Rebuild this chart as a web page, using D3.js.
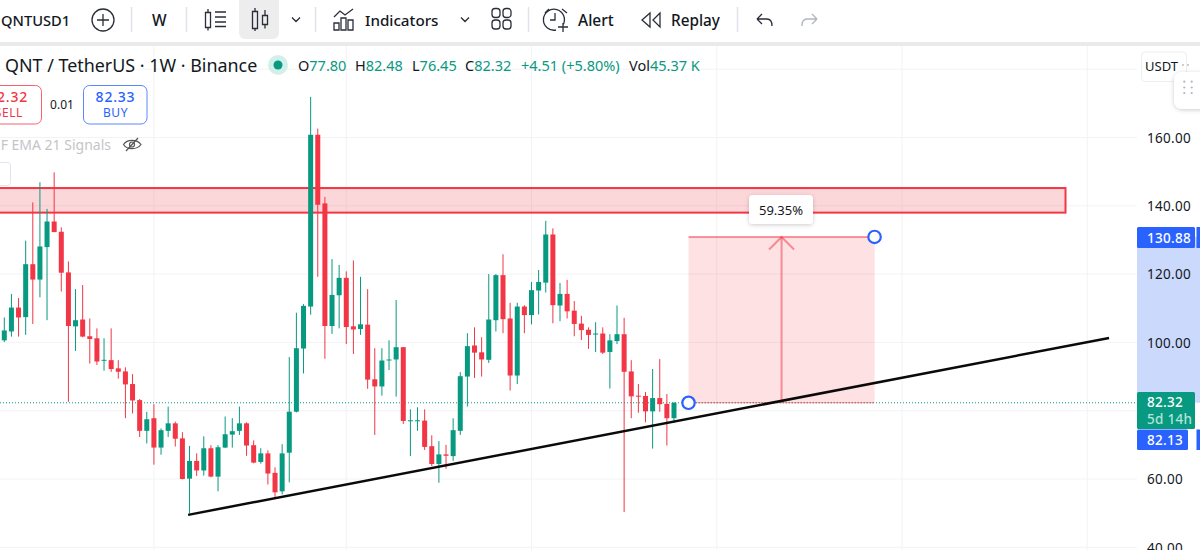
<!DOCTYPE html>
<html><head><meta charset="utf-8">
<script src="https://cdn.jsdelivr.net/npm/d3@7/dist/d3.min.js"></script>
<style>
html,body{margin:0;padding:0;background:#fff;overflow:hidden}
text{font-family:"Noto Sans","Open Sans",sans-serif}
</style></head><body><svg id="c" width="1200" height="550"></svg>
<script>
const opens=[100.6,103.2,110.2,107.4,122.9,118.4,127.9,135.4,132.4,120.5,104.7,106.7,101.8,101.2,94.7,94.8,92.4,91.5,87.8,83.1,74.1,77.8,69.2,74.1,76.3,71.9,60.1,65.3,62.5,69.0,60.7,69.2,73.0,74.1,76.3,69.9,65.0,67.5,61.8,56.4,67.7,79.7,98.2,110.5,160.8,140.7,104.8,113.8,118.9,104.7,103.9,105.2,89.2,87.1,94.7,95.0,98.6,76.9,76.9,77.1,69.6,64.4,67.2,66.7,74.1,90.0,99.1,97.1,94.9,106.5,119.7,107.0,90.3,110.5,108.0,115.2,117.5,131.6,110.8,114.2,109.3,105.5,103.7,102.3,102.6,97.2,100.4,102.4,91.5,84.4,84.3,79.8,83.7,82.0,77.80];
const highs=[107.3,114.2,113.0,129.8,141.0,146.9,139.1,149.8,133.7,123.7,115.6,116.8,107.0,104.1,101.2,104.1,94.8,92.7,90.7,83.4,79.7,81.9,74.8,81.2,76.8,73.7,69.7,67.5,72.5,69.9,69.9,78.3,77.8,81.2,76.6,71.3,69.0,68.4,63.4,70.2,95.7,108.7,111.2,171.9,162.6,142.6,124.4,122.7,120.8,124.0,119.2,115.6,98.3,98.3,100.6,112.4,98.6,80.4,81.0,80.4,72.8,71.1,70.0,77.8,91.3,102.7,104.4,101.5,120.0,120.0,125.8,111.6,111.6,110.9,117.7,121.2,135.6,133.4,117.4,118.3,112.1,107.8,104.4,105.9,104.4,102.4,110.8,107.2,94.8,87.8,85.5,92.2,95.1,84.9,82.48];
const lows=[100.1,101.7,101.7,102.2,105.4,113.2,106.5,132.3,114.9,82.6,97.5,101.5,93.8,93.4,91.7,91.4,89.4,77.8,79.2,72.3,70.4,64.2,67.1,72.3,69.5,59.9,49.9,60.9,61.0,60.5,56.4,69.1,69.2,72.9,66.8,64.6,64.5,58.4,54.5,55.5,59.0,79.5,90.9,108.1,119.2,95.2,102.5,104.1,99.5,96.6,102.2,86.4,72.9,84.4,91.9,84.1,76.1,66.7,74.1,68.5,63.8,58.9,63.0,65.3,72.9,81.2,89.6,90.0,94.0,103.2,102.7,85.9,87.8,102.7,105.3,108.2,114.6,105.6,106.2,107.0,101.8,100.7,98.1,97.2,96.6,86.5,99.5,50.3,77.8,79.4,76.6,68.9,79.7,69.8,76.45];
const closes=[103.5,110.2,107.3,122.9,118.4,128.1,135.4,132.3,120.4,104.8,106.5,101.7,101.0,94.4,94.9,92.2,91.4,87.7,83.0,74.1,77.5,69.2,74.3,76.3,71.8,60.0,65.3,62.5,69.0,60.7,69.3,73.1,74.0,76.3,69.8,64.8,67.5,61.6,56.1,67.5,79.7,98.3,110.7,160.8,140.3,104.8,113.9,118.9,104.5,103.8,105.3,89.1,87.1,94.7,95.0,98.6,77.0,77.2,77.2,69.4,64.4,67.2,66.8,74.3,90.1,98.9,97.0,95.0,106.7,119.7,106.8,90.3,110.5,108.0,115.3,117.7,131.6,110.9,114.2,109.1,105.4,103.6,102.2,102.6,97.0,100.6,102.4,91.4,84.2,84.1,79.8,83.7,81.9,77.8,82.32];
const priceTicks=[160,140,120,100,60,40];
const gridPrices=[180,160,140,120,100,80,60,40];
const gridIndexes=[21,48,74,100,126,152];
const zonePrices=[145.2,138.0];
const trendIdx=[25.8,155.07], trendPrices=[49.5,101.3];
const entryPrice=82.32, targetPrice=130.88, lastPrice=82.32;
const rangeIdx=[96.04,122.15];
const ohlcLabels=[["O","77.80",298],["H","82.48",355],["L","76.45",412],["C","82.32",465]];

const GREEN="#089981",RED="#f23645",BLUE="#2962ff",INK="#131722";
const svg=d3.select("#c");
const x=d3.scaleLinear().domain([0,94]).range([4.3,674]);
const y=d3.scaleLinear().domain([40,160]).range([547.3,137.5]);
const W=1137;

// grid
const grid=svg.append("g");
grid.selectAll("line.h").data(gridPrices).join("line").attr("class","h").attr("x1",0).attr("x2",W).attr("y1",d=>y(d)).attr("y2",d=>y(d)).attr("stroke","#f2f3f5").attr("stroke-width",1);
grid.selectAll("line.v").data(gridIndexes).join("line").attr("class","v").attr("x1",d=>x(d)).attr("x2",d=>x(d)).attr("y1",46).attr("y2",550).attr("stroke","#f2f3f5").attr("stroke-width",1);

// zone
svg.append("rect").attr("x",-5).attr("width",1065.5+5).attr("y",y(zonePrices[0])).attr("height",y(zonePrices[1])-y(zonePrices[0]))
  .attr("fill",RED).attr("fill-opacity",.2).attr("stroke",RED).attr("stroke-width",2);

// last price line
svg.append("line").attr("x1",0).attr("x2",W).attr("y1",y(lastPrice)).attr("y2",y(lastPrice)).attr("stroke",GREEN).attr("stroke-width",1).attr("stroke-dasharray","1 2");

// long/short position tool
const rx0=x(rangeIdx[0]),rx1=x(rangeIdx[1]),ry0=y(targetPrice),ry1=y(entryPrice),rmx=(rx0+rx1)/2;
svg.append("rect").attr("x",rx0).attr("width",rx1-rx0).attr("y",ry0).attr("height",ry1-ry0).attr("fill",RED).attr("fill-opacity",.15);
svg.append("line").attr("x1",rx0).attr("x2",rx1).attr("y1",ry0).attr("y2",ry0).attr("stroke",RED).attr("stroke-opacity",.5).attr("stroke-width",2);
svg.append("line").attr("x1",rx0).attr("x2",rx1).attr("y1",ry1).attr("y2",ry1).attr("stroke",RED).attr("stroke-opacity",.8).attr("stroke-width",1).attr("stroke-dasharray","2 1");
svg.append("line").attr("x1",rmx).attr("x2",rmx).attr("y1",ry0).attr("y2",ry1).attr("stroke",RED).attr("stroke-opacity",.5).attr("stroke-width",2);
svg.append("path").attr("d",`M${rmx-12.5},${ry0+12.5}L${rmx},${ry0}L${rmx+12.5},${ry0+12.5}`).attr("fill","none").attr("stroke",RED).attr("stroke-opacity",.5).attr("stroke-width",2);

// candles
const idx=d3.range(opens.length);
const cg=svg.append("g");
cg.selectAll("line").data(idx).join("line").attr("x1",i=>x(i)).attr("x2",i=>x(i)).attr("y1",i=>y(highs[i])).attr("y2",i=>y(lows[i]))
  .attr("stroke",i=>closes[i]>=opens[i]?GREEN:RED).attr("stroke-width",1);
cg.selectAll("rect").data(idx).join("rect").attr("x",i=>x(i)-2.5).attr("width",5)
  .attr("y",i=>y(Math.max(opens[i],closes[i]))).attr("height",i=>Math.max(1,Math.abs(y(opens[i])-y(closes[i]))))
  .attr("fill",i=>closes[i]>=opens[i]?GREEN:RED);

// trend line
svg.append("line").attr("x1",x(trendIdx[0])).attr("x2",x(trendIdx[1])).attr("y1",y(trendPrices[0])).attr("y2",y(trendPrices[1])).attr("stroke","#0a0a0a").attr("stroke-width",2.5);

// handles
[[rx0,ry1],[rx1,ry0]].forEach(p=>svg.append("circle").attr("cx",p[0]).attr("cy",p[1]).attr("r",6.2).attr("fill","#fff").attr("stroke",BLUE).attr("stroke-width",2.2));

// pct label
const defs=svg.append("defs");
const f=defs.append("filter").attr("id","sh").attr("x","-30%").attr("y","-30%").attr("width","160%").attr("height","170%");
f.append("feDropShadow").attr("dx",0).attr("dy",1).attr("stdDeviation",2).attr("flood-color","#000").attr("flood-opacity",.2);
svg.append("rect").attr("x",749).attr("y",195).attr("width",64).attr("height",29).attr("rx",4).attr("fill","#fff").attr("filter","url(#sh)");
svg.append("text").attr("x",781).attr("y",214.5).attr("text-anchor","middle").attr("font-size",13).attr("fill",INK).text("59.35%");

// price axis
svg.append("rect").attr("x",W).attr("y",46).attr("width",63).attr("height",504).attr("fill","#fff");
svg.append("rect").attr("x",W).attr("y",ry0).attr("width",63).attr("height",ry1-ry0).attr("fill","#cbd9fd");
const ax=d3.axisRight(y).tickValues(priceTicks).tickFormat(d3.format(".2f")).tickSize(0).tickPadding(0);
const axg=svg.append("g").attr("transform","translate(1147,0.5)").call(ax);
axg.select(".domain").remove();
axg.selectAll("text").attr("font-size",13.5).attr("font-family",'"Noto Sans"').attr("fill",INK).attr("letter-spacing",.3);
function tag(yy,h,w,col,lines,strip){
  svg.append("rect").attr("x",W).attr("y",yy).attr("width",w).attr("height",h).attr("rx",1.5).attr("fill",col);
  if(strip) svg.append("rect").attr("x",1196.5).attr("y",yy).attr("width",4).attr("height",h).attr("fill",col);
  lines.forEach(l=>svg.append("text").attr("x",1147).attr("y",l[1]).attr("font-size",13.5).attr("font-weight",500).attr("letter-spacing",.3).attr("fill",l[2]).text(l[0]));
}
tag(227,21,58,BLUE,[[d3.format(".2f")(targetPrice),242.5,"#fff"]],true);
tag(392,37,58,GREEN,[[d3.format(".2f")(lastPrice),407,"#fff"],["5d 14h",424,"#b5e3da"]],false);
tag(429.5,20.5,51,BLUE,[["82.13",445,"#fff"]],true);

// USDT button + widget
svg.append("rect").attr("x",1141.5).attr("y",52).attr("width",45).attr("height",29.5).attr("rx",4).attr("fill","#fff").attr("stroke","#eceef1");
svg.append("text").attr("x",1145).attr("y",71).attr("font-size",13).attr("fill",INK).text("USDT");
svg.selectAll("circle.u").data([1183,1188]).join("circle").attr("class","u").attr("cx",d=>d).attr("cy",65).attr("r",.7).attr("fill","#777");
svg.append("path").attr("d","M1204,72H1182a8,8 0 0 0 -8,8V101a8,8 0 0 0 8,8H1204Z").attr("fill","#fff").attr("filter","url(#sh)");
[1184.3,1191.7].forEach(a=>[81.7,87.5,93].forEach(b=>svg.append("circle").attr("cx",a).attr("cy",b).attr("r",1.1).attr("fill","#b2b5be")));

// header legend
svg.append("text").attr("x",5).attr("y",71.5).attr("font-size",17.9).attr("fill",INK).text("QNT / TetherUS · 1W · Binance");
svg.append("circle").attr("cx",278).attr("cy",65).attr("r",10).attr("fill","#d3efe9");
svg.append("circle").attr("cx",278).attr("cy",65).attr("r",4.5).attr("fill",GREEN);
ohlcLabels.forEach(l=>{
  const t=svg.append("text").attr("x",l[2]).attr("y",71).attr("font-size",14.5).attr("fill",INK).text(l[0]);
  t.append("tspan").attr("fill",GREEN).text(l[1]);
});
svg.append("text").attr("x",521).attr("y",71).attr("font-size",14.5).attr("fill",GREEN).text("+4.51 (+5.80%)");
const vol=svg.append("text").attr("x",629).attr("y",71).attr("font-size",14.5).attr("fill",INK).text("Vol");
vol.append("tspan").attr("fill",GREEN).text("45.37 K");

// sell/buy
svg.append("rect").attr("x",-20).attr("y",85.5).attr("width",61.5).attr("height",38.5).attr("rx",6).attr("fill","#fff").attr("stroke","#f7626e");
svg.append("text").attr("x",28).attr("y",102).attr("text-anchor","end").attr("font-size",14).attr("font-weight",500).attr("letter-spacing",.8).attr("fill",RED).text("82.32");
svg.append("text").attr("x",23).attr("y",117).attr("text-anchor","end").attr("font-size",12).attr("letter-spacing",.6).attr("fill",RED).text("SELL");
svg.append("text").attr("x",62).attr("y",109).attr("text-anchor","middle").attr("font-size",12).attr("fill",INK).text("0.01");
svg.append("rect").attr("x",83.5).attr("y",85.5).attr("width",63.5).attr("height",38.5).attr("rx",6).attr("fill","#fff").attr("stroke","#5c86ff");
svg.append("text").attr("x",115.5).attr("y",102).attr("text-anchor","middle").attr("font-size",14).attr("font-weight",500).attr("letter-spacing",.8).attr("fill",BLUE).text("82.33");
svg.append("text").attr("x",115.5).attr("y",117).attr("text-anchor","middle").attr("font-size",12).attr("letter-spacing",.6).attr("fill",BLUE).text("BUY");

// indicator row
svg.append("text").attr("x",111).attr("y",150).attr("text-anchor","end").attr("font-size",14).attr("fill","#c4c5c8").text("F EMA 21 Signals");
const ic=svg.append("g").attr("fill","none").attr("stroke","#555").attr("stroke-width",1.2);
ic.append("path").attr("d","M123.5,144.5C127,139 137,139 141,144.5C137,150 127,150 123.5,144.5Z");
ic.append("circle").attr("cx",132).attr("cy",144.5).attr("r",2.5);
ic.append("path").attr("d","M126,151L138,138");
svg.append("rect").attr("x",-8).attr("y",162.5).attr("width",18.5).attr("height",23).attr("rx",3).attr("fill","#fff").attr("stroke","#e0e3eb");

// toolbar
svg.append("rect").attr("x",0).attr("y",0).attr("width",1200).attr("height",42).attr("fill","#fff");
svg.append("rect").attr("x",0).attr("y",42).attr("width",1200).attr("height",4).attr("fill","#e9eaec");
const tb=svg.append("g");
tb.append("rect").attr("x",239).attr("y",-6).attr("width",40).attr("height",45).attr("rx",6).attr("fill","#ededed");
[131.5,186.5,315.5,528.5,737.5].forEach(a=>tb.append("line").attr("x1",a).attr("x2",a).attr("y1",7).attr("y2",32).attr("stroke","#e0e3eb").attr("stroke-width",1.5));
const T=(s,a,b,sz,w)=>tb.append("text").attr("x",a).attr("y",b).attr("font-size",sz).attr("font-weight",w||500).attr("fill",INK).text(s);
T("QNTUSD1",1,25.5,14.7);
T("W",152,26,15.5);
T("Indicators",365,25.5,15.2);
T("Alert",578,25.5,15.5);
T("Replay",671,25.5,15.3);
const I=tb.append("g").attr("fill","none").attr("stroke","#2a2e39").attr("stroke-width",1.3);
I.append("circle").attr("cx",103).attr("cy",20).attr("r",11);
I.append("path").attr("d","M97,20H109M103,14V26");
I.append("path").attr("d","M205.5,12.5h5v15h-5zM208,9v3.5M208,27.5v3M215,12h11M215,17h11M215,22h11M215,26.5h11");
I.append("path").attr("d","M252.5,11.5h5v17h-5zM255,8v3.5M255,28.5v2.5M262.5,15.5h5v9h-5zM265,10v5.5M265,24.5v4");
I.append("path").attr("d","M292,17.5l4,4l4,-4M461,17.5l4,4l4,-4");
I.append("path").attr("d","M334,30V23h5v7zM341,30V18h5v12zM348,30V20h5v10zM334,17l6,-6l5,4l8,-6");
I.append("path").attr("d","M492,11.5a3,3 0 0 1 3,-3h2a3,3 0 0 1 3,3v3a3,3 0 0 1 -3,3h-2a3,3 0 0 1 -3,-3zM503,11.5a3,3 0 0 1 3,-3h2a3,3 0 0 1 3,3v3a3,3 0 0 1 -3,3h-2a3,3 0 0 1 -3,-3zM492,23a3,3 0 0 1 3,-3h2a3,3 0 0 1 3,3v3a3,3 0 0 1 -3,3h-2a3,3 0 0 1 -3,-3zM503,23a3,3 0 0 1 3,-3h2a3,3 0 0 1 3,3v3a3,3 0 0 1 -3,3h-2a3,3 0 0 1 -3,-3z");
I.append("path").attr("d","M563,25A10.5,10.5 0 1 0 556,30M555,13v7h-5M558,27h10M563,23v9M545,13l4,-4M562,9l5,4");
I.append("path").attr("d","M650,13l-8,7l8,7zM660,13l-7,7l7,7z");
I.append("path").attr("d","M757,19h10q5,0 5,7M757,19l5,-5M757,19l5,5");
tb.append("path").attr("d","M817,19h-10q-5,0 -5,7M817,19l-5,-5M817,19l-5,5").attr("fill","none").attr("stroke","#b2b5be").attr("stroke-width",1.3);
</script></body></html>
